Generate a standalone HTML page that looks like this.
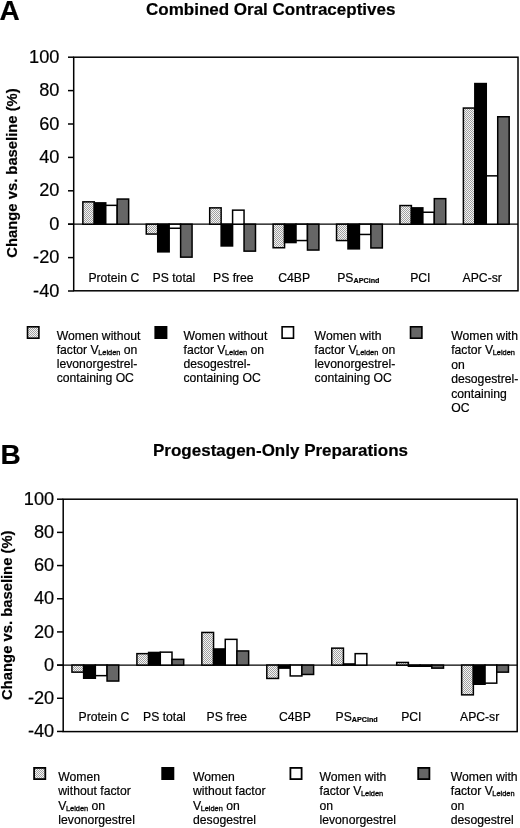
<!DOCTYPE html>
<html><head><meta charset="utf-8"><style>
html,body{margin:0;padding:0;background:#fff;width:520px;height:828px;overflow:hidden}
svg{display:block;filter:blur(0.3px)}
text{font-family:"Liberation Sans", sans-serif;fill:#000;stroke:#000;stroke-width:0.2px}
</style></head><body>
<svg width="520" height="828" viewBox="0 0 520 828">
<defs>
<pattern id="stip" patternUnits="userSpaceOnUse" width="2" height="2">
<rect width="2" height="2" fill="#f4f4f4"/>
<rect width="1" height="1" fill="#a0a0a0"/>
<rect x="1" y="1" width="1" height="1" fill="#a0a0a0"/>
</pattern>
</defs>
<rect width="520" height="828" fill="#fff"/>
<text x="-0.6" y="19.8" font-size="28" font-weight="bold">A</text>
<text x="146" y="14.5" font-size="17" font-weight="bold">Combined Oral Contraceptives</text>
<text transform="translate(17.4,173) rotate(-90)" font-size="14.8" font-weight="bold" text-anchor="middle">Change vs. baseline (%)</text>
<rect x="73.70" y="57.20" width="444.30" height="233.60" fill="none" stroke="#000" stroke-width="1.5"/>
<line x1="68.00" y1="224.20" x2="518.00" y2="224.20" stroke="#000" stroke-width="1.2"/>
<line x1="68.00" y1="57.20" x2="73.70" y2="57.20" stroke="#000" stroke-width="1.5"/>
<text x="59.40" y="62.80" font-size="18.2" text-anchor="end">100</text>
<line x1="68.00" y1="90.60" x2="73.70" y2="90.60" stroke="#000" stroke-width="1.5"/>
<text x="59.40" y="96.20" font-size="18.2" text-anchor="end">80</text>
<line x1="68.00" y1="124.00" x2="73.70" y2="124.00" stroke="#000" stroke-width="1.5"/>
<text x="59.40" y="129.60" font-size="18.2" text-anchor="end">60</text>
<line x1="68.00" y1="157.40" x2="73.70" y2="157.40" stroke="#000" stroke-width="1.5"/>
<text x="59.40" y="163.00" font-size="18.2" text-anchor="end">40</text>
<line x1="68.00" y1="190.80" x2="73.70" y2="190.80" stroke="#000" stroke-width="1.5"/>
<text x="59.40" y="196.40" font-size="18.2" text-anchor="end">20</text>
<line x1="68.00" y1="224.20" x2="73.70" y2="224.20" stroke="#000" stroke-width="1.5"/>
<text x="59.40" y="229.80" font-size="18.2" text-anchor="end">0</text>
<line x1="68.00" y1="257.60" x2="73.70" y2="257.60" stroke="#000" stroke-width="1.5"/>
<text x="59.40" y="263.20" font-size="18.2" text-anchor="end">-20</text>
<line x1="68.00" y1="291.00" x2="73.70" y2="291.00" stroke="#000" stroke-width="1.5"/>
<text x="59.40" y="296.60" font-size="18.2" text-anchor="end">-40</text>
<rect x="82.10" y="201.10" width="12.95" height="23.85" fill="#000"/>
<rect x="83.60" y="202.60" width="9.95" height="20.85" fill="url(#stip)"/>
<rect x="93.55" y="202.10" width="12.95" height="22.85" fill="#000"/>
<rect x="105.00" y="204.60" width="12.95" height="20.35" fill="#000"/>
<rect x="106.50" y="206.10" width="9.95" height="17.35" fill="#fff"/>
<rect x="116.45" y="198.30" width="12.95" height="26.65" fill="#000"/>
<rect x="117.95" y="199.80" width="9.95" height="23.65" fill="#666"/>
<rect x="145.52" y="223.45" width="12.95" height="11.35" fill="#000"/>
<rect x="147.02" y="224.95" width="9.95" height="8.35" fill="url(#stip)"/>
<rect x="156.97" y="223.45" width="12.95" height="29.15" fill="#000"/>
<rect x="168.42" y="223.45" width="12.95" height="5.55" fill="#000"/>
<rect x="169.92" y="224.95" width="9.95" height="2.55" fill="#fff"/>
<rect x="179.87" y="223.45" width="12.95" height="34.45" fill="#000"/>
<rect x="181.37" y="224.95" width="9.95" height="31.45" fill="#666"/>
<rect x="208.94" y="207.10" width="12.95" height="17.85" fill="#000"/>
<rect x="210.44" y="208.60" width="9.95" height="14.85" fill="url(#stip)"/>
<rect x="220.39" y="223.45" width="12.95" height="23.25" fill="#000"/>
<rect x="231.84" y="209.40" width="12.95" height="15.55" fill="#000"/>
<rect x="233.34" y="210.90" width="9.95" height="12.55" fill="#fff"/>
<rect x="243.29" y="223.45" width="12.95" height="28.45" fill="#000"/>
<rect x="244.79" y="224.95" width="9.95" height="25.45" fill="#666"/>
<rect x="272.36" y="223.45" width="12.95" height="25.05" fill="#000"/>
<rect x="273.86" y="224.95" width="9.95" height="22.05" fill="url(#stip)"/>
<rect x="283.81" y="223.45" width="12.95" height="19.85" fill="#000"/>
<rect x="295.26" y="223.45" width="12.95" height="17.85" fill="#000"/>
<rect x="296.76" y="224.95" width="9.95" height="14.85" fill="#fff"/>
<rect x="306.71" y="223.45" width="12.95" height="27.35" fill="#000"/>
<rect x="308.21" y="224.95" width="9.95" height="24.35" fill="#666"/>
<rect x="335.78" y="223.45" width="12.95" height="17.85" fill="#000"/>
<rect x="337.28" y="224.95" width="9.95" height="14.85" fill="url(#stip)"/>
<rect x="347.23" y="223.45" width="12.95" height="26.15" fill="#000"/>
<rect x="358.68" y="223.45" width="12.95" height="11.75" fill="#000"/>
<rect x="360.18" y="224.95" width="9.95" height="8.75" fill="#fff"/>
<rect x="370.13" y="223.45" width="12.95" height="25.25" fill="#000"/>
<rect x="371.63" y="224.95" width="9.95" height="22.25" fill="#666"/>
<rect x="399.20" y="204.80" width="12.95" height="20.15" fill="#000"/>
<rect x="400.70" y="206.30" width="9.95" height="17.15" fill="url(#stip)"/>
<rect x="410.65" y="207.10" width="12.95" height="17.85" fill="#000"/>
<rect x="422.10" y="211.50" width="12.95" height="13.45" fill="#000"/>
<rect x="423.60" y="213.00" width="9.95" height="10.45" fill="#fff"/>
<rect x="433.55" y="197.90" width="12.95" height="27.05" fill="#000"/>
<rect x="435.05" y="199.40" width="9.95" height="24.05" fill="#666"/>
<rect x="462.62" y="107.30" width="12.95" height="117.65" fill="#000"/>
<rect x="464.12" y="108.80" width="9.95" height="114.65" fill="url(#stip)"/>
<rect x="474.07" y="82.80" width="12.95" height="142.15" fill="#000"/>
<rect x="485.52" y="175.10" width="12.95" height="49.85" fill="#000"/>
<rect x="487.02" y="176.60" width="9.95" height="46.85" fill="#fff"/>
<rect x="496.97" y="116.00" width="12.95" height="108.95" fill="#000"/>
<rect x="498.47" y="117.50" width="9.95" height="105.95" fill="#666"/>
<text x="88.40" y="281.70" font-size="12.2">Protein C</text>
<text x="152.60" y="281.70" font-size="12.2">PS total</text>
<text x="213.00" y="281.70" font-size="12.2">PS free</text>
<text x="278.20" y="281.70" font-size="12.2">C4BP</text>
<text x="337.20" y="281.70" font-size="12.2">PS<tspan font-size="7.2" font-weight="bold" dy="1.5">APCind</tspan></text>
<text x="410.20" y="281.70" font-size="12.2">PCI</text>
<text x="462.60" y="281.70" font-size="12.2">APC-sr</text>
<rect x="26.70" y="326.00" width="13" height="13" fill="#000"/>
<rect x="28.30" y="327.60" width="9.80" height="9.80" fill="url(#stip)"/>
<text x="56.70" y="340.20" font-size="12.2" xml:space="preserve">Women without</text>
<text x="56.70" y="354.27" font-size="12.2" xml:space="preserve">factor V<tspan font-size="7.4" stroke="#000" stroke-width="0.3" dx="-0.5" dy="1">Leiden</tspan><tspan dy="-1"> on</tspan></text>
<text x="56.70" y="368.34" font-size="12.2" xml:space="preserve">levonorgestrel-</text>
<text x="56.70" y="382.41" font-size="12.2" xml:space="preserve">containing OC</text>
<rect x="154.40" y="326.00" width="13" height="13" fill="#000"/>
<text x="183.50" y="340.20" font-size="12.2" xml:space="preserve">Women without</text>
<text x="183.50" y="354.27" font-size="12.2" xml:space="preserve">factor V<tspan font-size="7.4" stroke="#000" stroke-width="0.3" dx="-0.5" dy="1">Leiden</tspan><tspan dy="-1"> on</tspan></text>
<text x="183.50" y="368.34" font-size="12.2" xml:space="preserve">desogestrel-</text>
<text x="183.50" y="382.41" font-size="12.2" xml:space="preserve">containing OC</text>
<rect x="281.30" y="326.00" width="13" height="13" fill="#000"/>
<rect x="282.90" y="327.60" width="9.80" height="9.80" fill="#fff"/>
<text x="314.60" y="340.20" font-size="12.2" xml:space="preserve">Women with</text>
<text x="314.60" y="354.27" font-size="12.2" xml:space="preserve">factor V<tspan font-size="7.4" stroke="#000" stroke-width="0.3" dx="-0.5" dy="1">Leiden</tspan><tspan dy="-1"> on</tspan></text>
<text x="314.60" y="368.34" font-size="12.2" xml:space="preserve">levonorgestrel-</text>
<text x="314.60" y="382.41" font-size="12.2" xml:space="preserve">containing OC</text>
<rect x="409.70" y="326.00" width="13" height="13" fill="#000"/>
<rect x="411.30" y="327.60" width="9.80" height="9.80" fill="#666"/>
<text x="451.20" y="340.00" font-size="12.2" xml:space="preserve">Women with</text>
<text x="451.20" y="354.40" font-size="12.2" xml:space="preserve">factor V<tspan font-size="7.4" stroke="#000" stroke-width="0.3" dx="-0.5" dy="1">Leiden</tspan><tspan dy="-1"></tspan></text>
<text x="451.20" y="368.80" font-size="12.2" xml:space="preserve">on</text>
<text x="451.20" y="383.20" font-size="12.2" xml:space="preserve">desogestrel-</text>
<text x="451.20" y="397.60" font-size="12.2" xml:space="preserve">containing</text>
<text x="451.20" y="412.00" font-size="12.2" xml:space="preserve">OC</text>
<text x="0.5" y="464" font-size="28" font-weight="bold">B</text>
<text x="153" y="455.5" font-size="17" font-weight="bold">Progestagen-Only Preparations</text>
<text transform="translate(12.2,615.2) rotate(-90)" font-size="14.8" font-weight="bold" text-anchor="middle">Change vs. baseline (%)</text>
<rect x="63.20" y="499.20" width="454.00" height="232.40" fill="none" stroke="#000" stroke-width="1.5"/>
<line x1="57.00" y1="665.10" x2="517.20" y2="665.10" stroke="#000" stroke-width="1.2"/>
<line x1="57.00" y1="499.20" x2="63.20" y2="499.20" stroke="#000" stroke-width="1.5"/>
<text x="54.20" y="504.80" font-size="18.2" text-anchor="end">100</text>
<line x1="57.00" y1="532.38" x2="63.20" y2="532.38" stroke="#000" stroke-width="1.5"/>
<text x="54.20" y="537.98" font-size="18.2" text-anchor="end">80</text>
<line x1="57.00" y1="565.56" x2="63.20" y2="565.56" stroke="#000" stroke-width="1.5"/>
<text x="54.20" y="571.16" font-size="18.2" text-anchor="end">60</text>
<line x1="57.00" y1="598.74" x2="63.20" y2="598.74" stroke="#000" stroke-width="1.5"/>
<text x="54.20" y="604.34" font-size="18.2" text-anchor="end">40</text>
<line x1="57.00" y1="631.92" x2="63.20" y2="631.92" stroke="#000" stroke-width="1.5"/>
<text x="54.20" y="637.52" font-size="18.2" text-anchor="end">20</text>
<line x1="57.00" y1="665.10" x2="63.20" y2="665.10" stroke="#000" stroke-width="1.5"/>
<text x="54.20" y="670.70" font-size="18.2" text-anchor="end">0</text>
<line x1="57.00" y1="698.28" x2="63.20" y2="698.28" stroke="#000" stroke-width="1.5"/>
<text x="54.20" y="703.88" font-size="18.2" text-anchor="end">-20</text>
<line x1="57.00" y1="731.46" x2="63.20" y2="731.46" stroke="#000" stroke-width="1.5"/>
<text x="54.20" y="737.06" font-size="18.2" text-anchor="end">-40</text>
<rect x="71.20" y="664.35" width="13.20" height="8.55" fill="#000"/>
<rect x="72.70" y="665.85" width="10.20" height="5.55" fill="url(#stip)"/>
<rect x="82.90" y="664.35" width="13.20" height="14.65" fill="#000"/>
<rect x="94.60" y="664.35" width="13.20" height="12.05" fill="#000"/>
<rect x="96.10" y="665.85" width="10.20" height="9.05" fill="#fff"/>
<rect x="106.30" y="664.35" width="13.20" height="17.45" fill="#000"/>
<rect x="107.80" y="665.85" width="10.20" height="14.45" fill="#666"/>
<rect x="136.15" y="652.90" width="13.20" height="12.95" fill="#000"/>
<rect x="137.65" y="654.40" width="10.20" height="9.95" fill="url(#stip)"/>
<rect x="147.85" y="651.70" width="13.20" height="14.15" fill="#000"/>
<rect x="159.55" y="651.40" width="13.20" height="14.45" fill="#000"/>
<rect x="161.05" y="652.90" width="10.20" height="11.45" fill="#fff"/>
<rect x="171.25" y="658.60" width="13.20" height="7.25" fill="#000"/>
<rect x="172.75" y="660.10" width="10.20" height="4.25" fill="#666"/>
<rect x="201.10" y="631.70" width="13.20" height="34.15" fill="#000"/>
<rect x="202.60" y="633.20" width="10.20" height="31.15" fill="url(#stip)"/>
<rect x="212.80" y="648.20" width="13.20" height="17.65" fill="#000"/>
<rect x="224.50" y="638.60" width="13.20" height="27.25" fill="#000"/>
<rect x="226.00" y="640.10" width="10.20" height="24.25" fill="#fff"/>
<rect x="236.20" y="650.20" width="13.20" height="15.65" fill="#000"/>
<rect x="237.70" y="651.70" width="10.20" height="12.65" fill="#666"/>
<rect x="266.05" y="664.35" width="13.20" height="14.85" fill="#000"/>
<rect x="267.55" y="665.85" width="10.20" height="11.85" fill="url(#stip)"/>
<rect x="277.75" y="664.35" width="13.20" height="4.55" fill="#000"/>
<rect x="289.45" y="664.35" width="13.20" height="12.35" fill="#000"/>
<rect x="290.95" y="665.85" width="10.20" height="9.35" fill="#fff"/>
<rect x="301.15" y="664.35" width="13.20" height="10.85" fill="#000"/>
<rect x="302.65" y="665.85" width="10.20" height="7.85" fill="#666"/>
<rect x="331.00" y="647.40" width="13.20" height="18.45" fill="#000"/>
<rect x="332.50" y="648.90" width="10.20" height="15.45" fill="url(#stip)"/>
<rect x="342.70" y="663.20" width="13.20" height="2.65" fill="#000"/>
<rect x="354.40" y="652.90" width="13.20" height="12.95" fill="#000"/>
<rect x="355.90" y="654.40" width="10.20" height="9.95" fill="#fff"/>
<rect x="395.95" y="661.70" width="13.20" height="4.15" fill="#000"/>
<rect x="397.45" y="663.20" width="10.20" height="1.15" fill="url(#stip)"/>
<rect x="407.65" y="664.35" width="13.20" height="2.65" fill="#000"/>
<rect x="419.35" y="664.35" width="13.20" height="2.65" fill="#000"/>
<rect x="431.05" y="664.35" width="13.20" height="4.55" fill="#000"/>
<rect x="432.55" y="665.85" width="10.20" height="1.55" fill="#666"/>
<rect x="460.90" y="664.35" width="13.20" height="31.25" fill="#000"/>
<rect x="462.40" y="665.85" width="10.20" height="28.25" fill="url(#stip)"/>
<rect x="472.60" y="664.35" width="13.20" height="20.65" fill="#000"/>
<rect x="484.30" y="664.35" width="13.20" height="19.55" fill="#000"/>
<rect x="485.80" y="665.85" width="10.20" height="16.55" fill="#fff"/>
<rect x="496.00" y="664.35" width="13.20" height="8.55" fill="#000"/>
<rect x="497.50" y="665.85" width="10.20" height="5.55" fill="#666"/>
<text x="78.50" y="720.80" font-size="12.2">Protein C</text>
<text x="143.00" y="720.80" font-size="12.2">PS total</text>
<text x="206.50" y="720.80" font-size="12.2">PS free</text>
<text x="279.00" y="720.80" font-size="12.2">C4BP</text>
<text x="335.50" y="720.80" font-size="12.2">PS<tspan font-size="7.2" font-weight="bold" dy="1.5">APCind</tspan></text>
<text x="401.20" y="720.80" font-size="12.2">PCI</text>
<text x="460.00" y="720.80" font-size="12.2">APC-sr</text>
<rect x="33.20" y="767.00" width="13" height="13" fill="#000"/>
<rect x="35.00" y="768.80" width="9.40" height="9.40" fill="url(#stip)"/>
<text x="58.30" y="781.30" font-size="12.2" xml:space="preserve">Women</text>
<text x="58.30" y="795.40" font-size="12.2" xml:space="preserve">without factor</text>
<text x="58.30" y="809.50" font-size="12.2" xml:space="preserve">V<tspan font-size="7.4" stroke="#000" stroke-width="0.3" dx="-0.5" dy="1">Leiden</tspan><tspan dy="-1"> on</tspan></text>
<text x="58.30" y="823.60" font-size="12.2" xml:space="preserve">levonorgestrel</text>
<rect x="161.30" y="767.00" width="13" height="13" fill="#000"/>
<text x="193.00" y="781.30" font-size="12.2" xml:space="preserve">Women</text>
<text x="193.00" y="795.40" font-size="12.2" xml:space="preserve">without factor</text>
<text x="193.00" y="809.50" font-size="12.2" xml:space="preserve">V<tspan font-size="7.4" stroke="#000" stroke-width="0.3" dx="-0.5" dy="1">Leiden</tspan><tspan dy="-1"> on</tspan></text>
<text x="193.00" y="823.60" font-size="12.2" xml:space="preserve">desogestrel</text>
<rect x="289.50" y="767.00" width="13" height="13" fill="#000"/>
<rect x="291.30" y="768.80" width="9.40" height="9.40" fill="#fff"/>
<text x="319.50" y="781.30" font-size="12.2" xml:space="preserve">Women with</text>
<text x="319.50" y="795.40" font-size="12.2" xml:space="preserve">factor V<tspan font-size="7.4" stroke="#000" stroke-width="0.3" dx="-0.5" dy="1">Leiden</tspan><tspan dy="-1"></tspan></text>
<text x="319.50" y="809.50" font-size="12.2" xml:space="preserve">on</text>
<text x="319.50" y="823.60" font-size="12.2" xml:space="preserve">levonorgestrel</text>
<rect x="417.30" y="767.00" width="13" height="13" fill="#000"/>
<rect x="419.10" y="768.80" width="9.40" height="9.40" fill="#666"/>
<text x="450.80" y="781.30" font-size="12.2" xml:space="preserve">Women with</text>
<text x="450.80" y="795.40" font-size="12.2" xml:space="preserve">factor V<tspan font-size="7.4" stroke="#000" stroke-width="0.3" dx="-0.5" dy="1">Leiden</tspan><tspan dy="-1"></tspan></text>
<text x="450.80" y="809.50" font-size="12.2" xml:space="preserve">on</text>
<text x="450.80" y="823.60" font-size="12.2" xml:space="preserve">desogestrel</text>
</svg>
</body></html>
